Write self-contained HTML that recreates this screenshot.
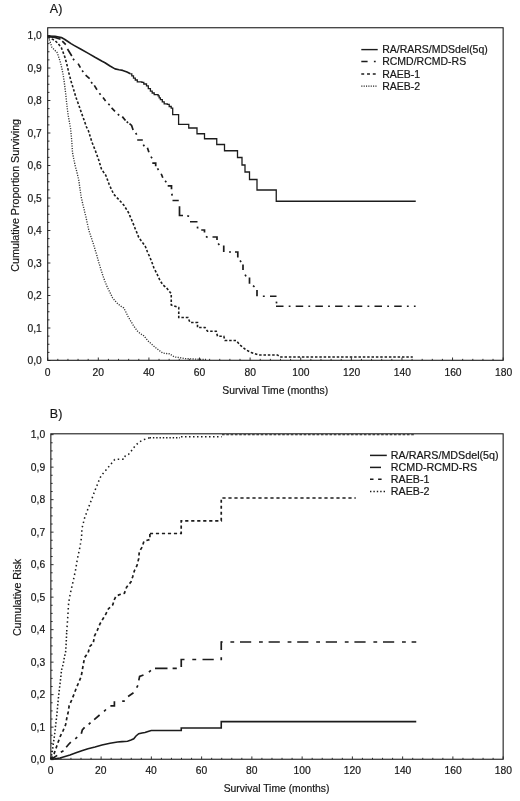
<!DOCTYPE html>
<html lang="en"><head><meta charset="utf-8"><title>Survival curves</title>
<style>html,body{margin:0;padding:0;background:#fff}svg{display:block;will-change:transform;filter:grayscale(1)}svg text{stroke:#1c1c1c;stroke-width:.2px;fill:#151515}</style></head>
<body>
<svg width="520" height="801" viewBox="0 0 520 801" font-family="Liberation Sans, Arial, Helvetica, sans-serif" fill="#1c1c1c">
<rect width="520" height="801" fill="#fff"/>
<text x="49.8" y="13.2" font-size="12.5">A)</text>
<rect x="47.7" y="27.75" width="455.45" height="332.55" fill="none" stroke="#1c1c1c" stroke-width="1.1"/>
<path d="M47.70,360.30v-2.80M57.82,360.30v-1.45M67.94,360.30v-1.45M78.06,360.30v-1.45M88.18,360.30v-1.45M98.31,360.30v-2.80M108.43,360.30v-1.45M118.55,360.30v-1.45M128.67,360.30v-1.45M138.79,360.30v-1.45M148.91,360.30v-2.80M159.03,360.30v-1.45M169.15,360.30v-1.45M179.27,360.30v-1.45M189.40,360.30v-1.45M199.52,360.30v-2.80M209.64,360.30v-1.45M219.76,360.30v-1.45M229.88,360.30v-1.45M240.00,360.30v-1.45M250.12,360.30v-2.80M260.24,360.30v-1.45M270.36,360.30v-1.45M280.49,360.30v-1.45M290.61,360.30v-1.45M300.73,360.30v-2.80M310.85,360.30v-1.45M320.97,360.30v-1.45M331.09,360.30v-1.45M341.21,360.30v-1.45M351.33,360.30v-2.80M361.45,360.30v-1.45M371.58,360.30v-1.45M381.70,360.30v-1.45M391.82,360.30v-1.45M401.94,360.30v-2.80M412.06,360.30v-1.45M422.18,360.30v-1.45M432.30,360.30v-1.45M442.42,360.30v-1.45M452.54,360.30v-2.80M462.67,360.30v-1.45M472.79,360.30v-1.45M482.91,360.30v-1.45M493.03,360.30v-1.45M503.15,360.30v-2.80" stroke="#1c1c1c" stroke-width="0.9" fill="none"/>
<path d="M47.70,360.50h2.70M47.70,352.38h1.80M47.70,344.25h1.80M47.70,336.12h1.80M47.70,328.00h2.70M47.70,319.88h1.80M47.70,311.75h1.80M47.70,303.62h1.80M47.70,295.50h2.70M47.70,287.38h1.80M47.70,279.25h1.80M47.70,271.12h1.80M47.70,263.00h2.70M47.70,254.88h1.80M47.70,246.75h1.80M47.70,238.62h1.80M47.70,230.50h2.70M47.70,222.38h1.80M47.70,214.25h1.80M47.70,206.12h1.80M47.70,198.00h2.70M47.70,189.88h1.80M47.70,181.75h1.80M47.70,173.62h1.80M47.70,165.50h2.70M47.70,157.38h1.80M47.70,149.25h1.80M47.70,141.12h1.80M47.70,133.00h2.70M47.70,124.88h1.80M47.70,116.75h1.80M47.70,108.62h1.80M47.70,100.50h2.70M47.70,92.38h1.80M47.70,84.25h1.80M47.70,76.12h1.80M47.70,68.00h2.70M47.70,59.88h1.80M47.70,51.75h1.80M47.70,43.62h1.80M47.70,35.50h2.70" stroke="#1c1c1c" stroke-width="0.9" fill="none"/>
<text x="41.8" y="364.40" font-size="10.3" text-anchor="end">0,0</text>
<text x="41.8" y="331.90" font-size="10.3" text-anchor="end">0,1</text>
<text x="41.8" y="299.40" font-size="10.3" text-anchor="end">0,2</text>
<text x="41.8" y="266.90" font-size="10.3" text-anchor="end">0,3</text>
<text x="41.8" y="234.40" font-size="10.3" text-anchor="end">0,4</text>
<text x="41.8" y="201.90" font-size="10.3" text-anchor="end">0,5</text>
<text x="41.8" y="169.40" font-size="10.3" text-anchor="end">0,6</text>
<text x="41.8" y="136.90" font-size="10.3" text-anchor="end">0,7</text>
<text x="41.8" y="104.40" font-size="10.3" text-anchor="end">0,8</text>
<text x="41.8" y="71.90" font-size="10.3" text-anchor="end">0,9</text>
<text x="41.8" y="39.40" font-size="10.3" text-anchor="end">1,0</text>
<text x="47.50" y="376.2" font-size="10.3" text-anchor="middle">0</text>
<text x="98.19" y="376.2" font-size="10.3" text-anchor="middle">20</text>
<text x="148.88" y="376.2" font-size="10.3" text-anchor="middle">40</text>
<text x="199.57" y="376.2" font-size="10.3" text-anchor="middle">60</text>
<text x="250.26" y="376.2" font-size="10.3" text-anchor="middle">80</text>
<text x="300.94" y="376.2" font-size="10.3" text-anchor="middle">100</text>
<text x="351.63" y="376.2" font-size="10.3" text-anchor="middle">120</text>
<text x="402.32" y="376.2" font-size="10.3" text-anchor="middle">140</text>
<text x="453.01" y="376.2" font-size="10.3" text-anchor="middle">160</text>
<text x="503.70" y="376.2" font-size="10.3" text-anchor="middle">180</text>
<text x="275.2" y="393.6" font-size="10.35" text-anchor="middle">Survival Time (months)</text>
<text transform="translate(18.5,195.3) rotate(-90)" font-size="10.7" text-anchor="middle">Cumulative Proportion Surviving</text>
<path d="M47.70,36.00L55.00,36.30L61.40,37.60L64.50,39.20L67.50,41.25L71.00,43.60L74.40,45.60L81.00,49.30L88.30,53.40L95.00,57.30L102.10,61.20L105.00,62.70L110.00,66.00L115.00,68.85L119.00,69.70L122.70,70.40L127.00,72.00L130.40,73.80" fill="none" stroke="#1c1c1c" stroke-width="1.65" stroke-linejoin="round"/>
<path d="M130.40,73.80H131.80V75.80H133.50V78.10H135.30V80.00H137.30V81.90H141.90V82.40H143.80V84.00H146.50V85.80H148.30V88.60H150.40V91.20H152.20V93.00H154.20V94.70H158.10V95.80H159.20V97.80H160.40V99.60H162.30V101.80H164.20V103.90H167.30V104.40H169.20V106.50H171.20V108.10H172.70V114.70H178.60V124.40H188.75V128.00H197.00V133.75H204.50V138.75H216.75V144.50H224.50V150.75H237.50V157.50H242.00V165.00H245.00V172.00H249.50V179.50H257.00V190.00H276.25V201.25H415.75V201.25" fill="none" stroke="#1c1c1c" stroke-width="1.3" stroke-linejoin="miter"/>
<path d="M47.75,36.60L55.00,37.40L60.50,39.20M62.30,41.20L65.80,44.70M67.50,49.00L71.80,56.00M73.01,58.66L74.19,60.14M78.10,63.70L80.40,67.70M82.11,70.46L83.29,71.94M85.60,75.20L89.60,78.60M91.14,81.88L92.26,83.42M94.30,85.40L97.00,89.70M99.41,93.26L100.59,94.74M103.00,97.50L105.60,101.00M108.33,103.73L109.67,105.07M111.60,107.90L115.00,111.30M117.83,114.13L119.17,115.47M122.30,116.60L125.50,120.50M126.73,121.63L128.07,122.97M129.50,123.60L131.60,125.40L133.10,130.00M135.71,132.99L136.69,134.61M137.20,140.00L142.80,140.00M143.31,144.59L144.29,146.21M147.40,147.70L148.90,152.30M151.01,156.59L151.99,158.21M152.30,163.10L155.70,163.10L155.70,166.20M157.51,168.39L158.49,170.01M161.20,173.80L162.80,177.70M165.11,180.76L166.29,182.24M167.70,185.80L171.50,185.80L171.50,189.20M171.84,193.76L172.16,195.64M172.50,200.50L178.75,200.50M179.50,206.25L179.50,215.50L183.00,215.50M187.26,215.94L189.14,216.26M190.00,221.75L197.50,221.75M197.47,226.65L197.63,228.55M201.25,230.00L204.50,230.00L204.50,232.50M205.96,236.37L207.54,237.43M212.50,237.00L217.00,237.00L217.00,240.00M218.17,243.50L219.33,245.00M223.75,245.50L223.75,252.00M229.05,252.00L230.95,252.00M235.00,252.00L237.80,252.00L237.80,257.50M240.01,260.52L241.09,262.08M243.00,264.50L243.00,270.00M245.13,274.65L245.97,276.35M249.50,277.50L249.50,283.75M253.00,285.67L254.50,286.83M257.00,290.00L257.00,296.25M262.85,296.25L264.75,296.25M270.00,296.25L276.50,296.25M276.34,301.56L276.66,303.44" fill="none" stroke="#1c1c1c" stroke-width="1.7"/>
<path d="M276,306.25H415.6" fill="none" stroke="#1c1c1c" stroke-width="1.5" stroke-dasharray="7.5 5.2 1.8 5.2"/>
<path d="M47.75,37.00L51.00,38.50L55.00,40.50L58.00,43.50L61.25,47.50L63.00,52.00L65.00,57.50L67.00,65.00L68.75,72.50L71.00,81.00L73.75,90.00L76.00,97.50L78.75,105.00L81.50,113.00L84.50,121.25L86.50,127.00L88.50,131.00L90.20,136.50L91.90,142.10L93.70,146.50L95.40,150.80L97.10,155.50L98.80,160.30L100.10,164.60L101.40,168.90L103.60,172.20L105.80,175.30L107.50,179.90L109.20,184.50L111.40,189.30L113.60,194.00L116.10,196.80L118.70,199.40L121.30,202.30L123.90,205.30L126.10,208.70L128.30,212.20L130.00,216.10L131.70,220.00L133.50,224.40L135.20,228.70L137.00,233.00L138.70,237.30L141.20,240.80L143.80,244.20L145.50,246.80L147.50,252.00L150.00,257.50L152.00,262.50L153.75,267.50L157.00,274.00L160.00,280.50L163.00,285.00L166.25,287.50L171.25,293.75L171.25,305.00L178.75,307.50L178.75,317.50L188.00,317.50L190.00,322.50L197.50,322.50L197.50,327.50L205.00,327.50L207.50,331.25L216.25,331.25L217.50,336.25L223.75,336.25L225.00,340.50L236.25,340.50L240.00,345.00L246.25,350.00L251.25,352.50L258.75,355.00L277.50,355.00L280.00,357.00L412.80,357.00" fill="none" stroke="#1c1c1c" stroke-width="1.6" stroke-dasharray="2.5 1.85"/>
<path d="M47.75,37.50L48.60,38.60L49.30,39.50L50.50,43.00L51.90,47.30L54.50,50.00L57.10,52.50L59.00,58.00L60.60,62.90L62.00,69.00L63.20,75.00L64.10,81.00L64.90,87.10L65.80,95.00L66.60,102.70L67.50,110.00L68.40,116.50L69.50,122.50L70.60,128.70L71.25,135.00L72.00,144.00L72.50,152.50L73.75,159.00L75.00,165.00L77.00,172.50L78.75,180.00L80.00,189.00L81.25,197.50L83.50,207.00L85.75,216.25L87.25,223.00L88.75,230.00L91.25,237.50L93.75,245.00L95.20,250.00L97.00,256.00L98.65,262.10L100.80,269.00L103.00,276.00L105.00,281.50L107.30,287.20L110.00,292.50L112.50,297.60L115.00,300.80L117.70,303.70L120.50,306.00L123.75,308.00L126.00,312.30L128.10,316.60L130.70,321.00L133.30,325.30L135.50,328.50L137.60,331.30L140.50,333.70L143.70,335.70L146.20,338.70L148.80,341.70L152.30,344.80L155.80,347.80L159.20,350.50L162.70,353.00L166.00,353.50L169.60,353.80L172.00,355.50L174.80,357.00L180.00,357.70L185.00,358.60L197.50,359.20L206.00,359.50" fill="none" stroke="#333" stroke-width="1.35" stroke-dasharray="1.15 1.35"/>
<path d="M361.3,49.6H377.7" stroke="#1c1c1c" stroke-width="1.4" fill="none"/>
<text x="382.2" y="52.9" font-size="10.5">RA/RARS/MDSdel(5q)</text>
<path d="M361.3,61.4H377.7" stroke="#1c1c1c" stroke-width="1.5" stroke-dasharray="6.3 6.3 1.8 10" fill="none"/>
<text x="382.2" y="64.85" font-size="10.5">RCMD/RCMD-RS</text>
<path d="M361.3,74.0H377.7" stroke="#1c1c1c" stroke-width="1.6" stroke-dasharray="2.9 2.85" fill="none"/>
<text x="382.2" y="77.5" font-size="10.5">RAEB-1</text>
<path d="M361.3,86.1H377.7" stroke="#1c1c1c" stroke-width="1.1" stroke-dasharray="1.1 1.25" fill="none"/>
<text x="382.2" y="89.6" font-size="10.5">RAEB-2</text>
<text x="49.8" y="417.8" font-size="12.5">B)</text>
<rect x="50.85" y="433.8" width="452.30" height="325.45" fill="none" stroke="#1c1c1c" stroke-width="1.1"/>
<path d="M50.85,759.25v-2.80M60.90,759.25v-1.45M70.95,759.25v-1.45M81.00,759.25v-1.45M91.05,759.25v-1.45M101.11,759.25v-2.80M111.16,759.25v-1.45M121.21,759.25v-1.45M131.26,759.25v-1.45M141.31,759.25v-1.45M151.36,759.25v-2.80M161.41,759.25v-1.45M171.46,759.25v-1.45M181.51,759.25v-1.45M191.57,759.25v-1.45M201.62,759.25v-2.80M211.67,759.25v-1.45M221.72,759.25v-1.45M231.77,759.25v-1.45M241.82,759.25v-1.45M251.87,759.25v-2.80M261.92,759.25v-1.45M271.97,759.25v-1.45M282.03,759.25v-1.45M292.08,759.25v-1.45M302.13,759.25v-2.80M312.18,759.25v-1.45M322.23,759.25v-1.45M332.28,759.25v-1.45M342.33,759.25v-1.45M352.38,759.25v-2.80M362.43,759.25v-1.45M372.49,759.25v-1.45M382.54,759.25v-1.45M392.59,759.25v-1.45M402.64,759.25v-2.80M412.69,759.25v-1.45M422.74,759.25v-1.45M432.79,759.25v-1.45M442.84,759.25v-1.45M452.89,759.25v-2.80M462.95,759.25v-1.45M473.00,759.25v-1.45M483.05,759.25v-1.45M493.10,759.25v-1.45M503.15,759.25v-2.80" stroke="#1c1c1c" stroke-width="0.9" fill="none"/>
<path d="M50.85,759.65h2.70M50.85,751.52h1.80M50.85,743.40h1.80M50.85,735.27h1.80M50.85,727.15h2.70M50.85,719.02h1.80M50.85,710.90h1.80M50.85,702.77h1.80M50.85,694.65h2.70M50.85,686.52h1.80M50.85,678.40h1.80M50.85,670.27h1.80M50.85,662.15h2.70M50.85,654.02h1.80M50.85,645.90h1.80M50.85,637.77h1.80M50.85,629.65h2.70M50.85,621.52h1.80M50.85,613.40h1.80M50.85,605.27h1.80M50.85,597.15h2.70M50.85,589.02h1.80M50.85,580.90h1.80M50.85,572.77h1.80M50.85,564.65h2.70M50.85,556.52h1.80M50.85,548.40h1.80M50.85,540.27h1.80M50.85,532.15h2.70M50.85,524.02h1.80M50.85,515.90h1.80M50.85,507.77h1.80M50.85,499.65h2.70M50.85,491.52h1.80M50.85,483.40h1.80M50.85,475.27h1.80M50.85,467.15h2.70M50.85,459.02h1.80M50.85,450.90h1.80M50.85,442.77h1.80M50.85,434.65h2.70" stroke="#1c1c1c" stroke-width="0.9" fill="none"/>
<text x="45.2" y="763.35" font-size="10.3" text-anchor="end">0,0</text>
<text x="45.2" y="730.85" font-size="10.3" text-anchor="end">0,1</text>
<text x="45.2" y="698.35" font-size="10.3" text-anchor="end">0,2</text>
<text x="45.2" y="665.85" font-size="10.3" text-anchor="end">0,3</text>
<text x="45.2" y="633.35" font-size="10.3" text-anchor="end">0,4</text>
<text x="45.2" y="600.85" font-size="10.3" text-anchor="end">0,5</text>
<text x="45.2" y="568.35" font-size="10.3" text-anchor="end">0,6</text>
<text x="45.2" y="535.85" font-size="10.3" text-anchor="end">0,7</text>
<text x="45.2" y="503.35" font-size="10.3" text-anchor="end">0,8</text>
<text x="45.2" y="470.85" font-size="10.3" text-anchor="end">0,9</text>
<text x="45.2" y="438.35" font-size="10.3" text-anchor="end">1,0</text>
<text x="50.50" y="774.3" font-size="10.3" text-anchor="middle">0</text>
<text x="100.82" y="774.3" font-size="10.3" text-anchor="middle">20</text>
<text x="151.14" y="774.3" font-size="10.3" text-anchor="middle">40</text>
<text x="201.47" y="774.3" font-size="10.3" text-anchor="middle">60</text>
<text x="251.79" y="774.3" font-size="10.3" text-anchor="middle">80</text>
<text x="302.11" y="774.3" font-size="10.3" text-anchor="middle">100</text>
<text x="352.43" y="774.3" font-size="10.3" text-anchor="middle">120</text>
<text x="402.76" y="774.3" font-size="10.3" text-anchor="middle">140</text>
<text x="453.08" y="774.3" font-size="10.3" text-anchor="middle">160</text>
<text x="503.40" y="774.3" font-size="10.3" text-anchor="middle">180</text>
<text x="276.6" y="792.3" font-size="10.35" text-anchor="middle">Survival Time (months)</text>
<text transform="translate(21,597.5) rotate(-90)" font-size="10.7" text-anchor="middle">Cumulative Risk</text>
<path d="M50.75,759.25L55.00,758.80L60.00,758.00L65.00,756.50L70.00,755.00L76.00,752.80L82.50,750.50L88.00,748.80L95.00,747.00L102.00,745.00L110.00,743.25L117.50,742.00L122.00,741.60L127.50,741.25L131.00,740.00L133.75,738.75L136.00,736.00L138.75,733.75L142.00,733.00L145.00,732.50L148.00,731.50L151.25,730.50L181.25,730.50L181.25,728.00L221.25,728.00L221.25,721.60L416.25,721.60" fill="none" stroke="#1c1c1c" stroke-width="1.6"/>
<path d="M50.90,759.20L54.00,757.40L57.20,755.40M60.80,752.20L63.50,750.70M66.20,747.20L68.50,744.50L70.80,742.20M75.29,738.78L77.21,737.02M81.30,733.70L82.30,730.00L84.60,727.40M88.68,724.42L90.52,722.58M94.20,719.60L99.60,715.00M104.08,711.32L105.92,709.48M110.40,705.80L114.40,705.80L114.40,701.20M122.20,701.20L124.80,701.20M128.10,696.50L133.50,692.70M136.72,687.66L137.88,685.34M138.80,680.40L139.60,676.50L143.50,675.00M148.91,672.05L150.89,670.35M155.00,668.30L167.50,668.30M172.60,668.30L176.80,668.30M181.25,667.00L181.25,659.50L184.50,659.50M192.30,659.50L196.20,659.50M202.50,659.50L213.75,659.50M221.25,660.30L221.25,657.20M221.25,650.00L221.25,641.25" fill="none" stroke="#1c1c1c" stroke-width="1.7"/>
<path d="M221.25,642H416.25" fill="none" stroke="#1c1c1c" stroke-width="1.6" stroke-dasharray="11.2 7.8 3.8 5.8" stroke-dashoffset="9.85"/>
<path d="M50.90,759.20L52.50,756.50L54.20,753.40L56.10,748.00L58.10,742.20L60.40,736.00L63.10,730.60L65.60,724.80L66.80,718.20L68.20,712.00L69.20,705.50L71.90,699.60L74.20,693.80L76.30,688.10L78.80,682.30L81.20,676.50L82.30,670.20L83.50,663.30L84.60,657.50L88.10,652.90L89.80,646.50L93.30,643.10L94.40,636.20L97.30,630.40L98.60,627.00L100.20,623.50L103.30,618.30L105.90,613.90L108.50,608.70L112.80,604.80L114.50,599.20L116.00,596.30L118.80,594.90L124.40,593.20L126.60,587.10L131.00,581.90L132.70,576.70L134.40,570.70L137.00,565.50L138.70,558.60L139.30,551.60L142.20,547.00L143.90,541.20L149.90,539.50L149.90,533.50" fill="none" stroke="#1c1c1c" stroke-width="1.7" stroke-dasharray="3.2 2.8"/>
<path d="M149.90,533.50L181.20,533.50L181.20,520.80L221.25,520.80L221.25,498.00L355.75,498.00" fill="none" stroke="#1c1c1c" stroke-width="1.7" stroke-dasharray="3.2 2.8"/>
<path d="M50.90,759.20L51.60,755.00L52.60,749.50L53.40,743.30L54.60,734.80L55.70,724.80L56.50,717.80L57.30,710.10L57.60,706.50L58.70,695.00L59.80,685.80L61.00,675.40L61.50,670.20L63.30,663.80L64.40,656.90L65.60,652.30L66.20,643.10L66.70,631.50" fill="none" stroke="#1c1c1c" stroke-width="1.55" stroke-dasharray="1.5 2.1"/>
<path d="M66.70,631.50L67.30,624.00L67.80,616.50L68.65,602.70L70.40,593.20L73.00,581.90L75.60,569.80L77.30,559.40L79.90,547.30L81.60,536.90L81.90,528.70L84.50,518.30L88.00,508.70L91.40,500.10L94.90,490.60L98.40,481.90L101.00,475.90L106.20,469.80L110.50,464.60L114.80,459.40L124.30,459.10L125.20,456.00L128.70,454.20L132.10,449.90L134.70,446.40L139.00,442.10L144.20,439.50L149.60,437.80" fill="none" stroke="#1c1c1c" stroke-width="1.55" stroke-dasharray="1.5 2.9"/>
<path d="M149.6,437.8H180" fill="none" stroke="#1c1c1c" stroke-width="1.4" stroke-dasharray="1.4 1.9"/>
<path d="M181,436.8H221.6" fill="none" stroke="#1c1c1c" stroke-width="1.4" stroke-dasharray="1.5 2.5"/>
<path d="M222,434.75H415.4" fill="none" stroke="#1c1c1c" stroke-width="1.1" stroke-dasharray="2.6 1.7"/>
<path d="M370,455.4H386.8" stroke="#1c1c1c" stroke-width="1.5" fill="none"/>
<text x="390.8" y="459.3" font-size="10.72">RA/RARS/MDSdel(5q)</text>
<path d="M370,467.4H385.5" stroke="#1c1c1c" stroke-width="1.5" stroke-dasharray="11 20" fill="none"/>
<text x="390.8" y="471.3" font-size="10.72">RCMD-RCMD-RS</text>
<path d="M370,479.3H385.5" stroke="#1c1c1c" stroke-width="1.55" stroke-dasharray="3.5 4.6" fill="none"/>
<text x="390.8" y="483.1" font-size="10.72">RAEB-1</text>
<path d="M370,491.5H385.5" stroke="#1c1c1c" stroke-width="1.4" stroke-dasharray="1.4 2.0" fill="none"/>
<text x="390.8" y="495.4" font-size="10.72">RAEB-2</text>
</svg>
</body></html>
